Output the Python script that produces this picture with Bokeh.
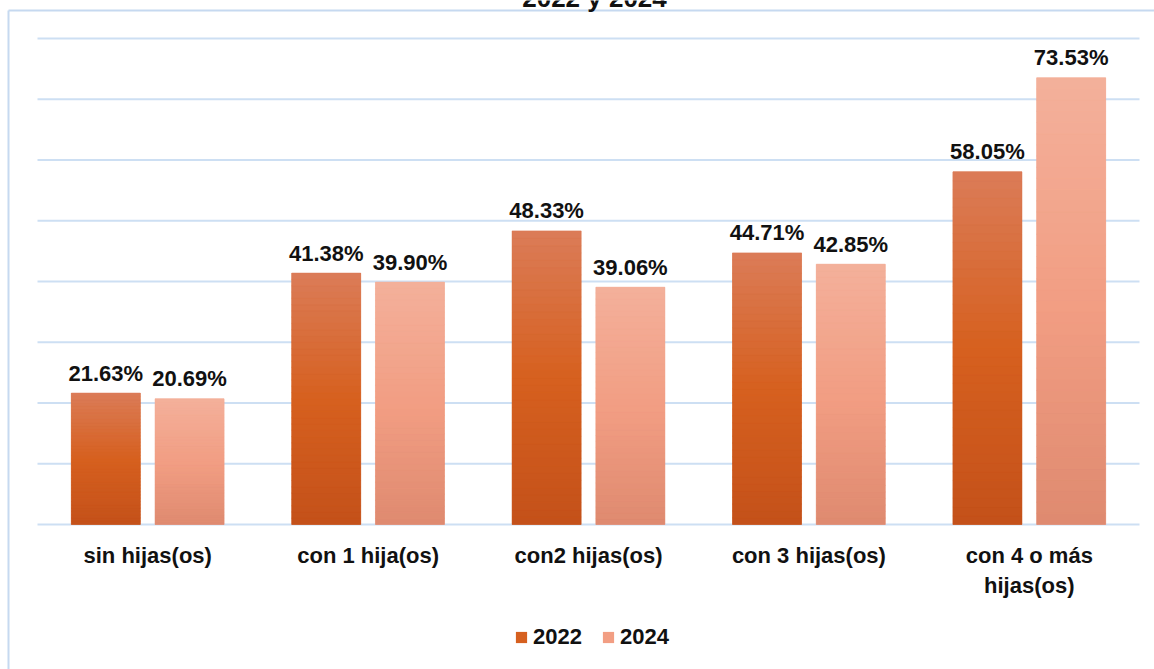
from bokeh.plotting import figure
from bokeh.models import Range1d, Legend, LegendItem, ColumnDataSource
from bokeh.transform import dodge
from bokeh.embed import file_html
from bokeh.resources import INLINE
from bokeh.core.properties import value

# ---------------- data ----------------
title_text = "2022 y 2024"
categories = ["sin hijas(os)", "con 1 hija(os)", "con2 hijas(os)",
              "con 3 hijas(os)", "con 4 o más hijas(os)"]
category_line1 = ["sin hijas(os)", "con 1 hija(os)", "con2 hijas(os)",
                  "con 3 hijas(os)", "con 4 o más"]
category_line2 = ["", "", "", "", "hijas(os)"]
years = ["2022", "2024"]
values_2022 = [21.63, 41.38, 48.33, 44.71, 58.05]
values_2024 = [20.69, 39.90, 39.06, 42.85, 73.53]
y_ticks = [0, 10, 20, 30, 40, 50, 60, 70, 80]

# ---------------- layout / styles ----------------
FONT = "Liberation Sans"
grad_2022 = ["#db7c58", "#d6601f", "#c4511a"]   # top, middle, bottom
grad_2024 = ["#f3b09b", "#f29e83", "#df8a70"]
grid_color = "#cddff3"
border_color = "#c6d9f0"
OFF = 0.19
BW = 0.313
N_BANDS = 40
W, H = 1154, 669
PLOT_LEFT, PLOT_RIGHT = 37, 1139     # px extent of category area
ZERO_PX, TOP80_PX = 524, 38          # px of y=0 and y=80
BORDER_X, BORDER_Y = 8, 10           # px of chart-area border
TITLE_BASE_PX = -3

n = len(categories)
PXX = (PLOT_RIGHT - PLOT_LEFT) / n
PXY = (ZERO_PX - TOP80_PX) / 80.0


def px_to_x(px):
    return (px - PLOT_LEFT) / PXX


def px_to_y(py):
    return (ZERO_PX - py) / PXY


def hex2rgb(h):
    h = h.lstrip("#")
    return [int(h[i:i + 2], 16) for i in (0, 2, 4)]


def grad_color(stops, f):
    # f: 0 at top, 1 at bottom
    if f <= 0.5:
        a, b, t = stops[0], stops[1], f / 0.5
    else:
        a, b, t = stops[1], stops[2], (f - 0.5) / 0.5
    ca, cb = hex2rgb(a), hex2rgb(b)
    c = [round(ca[i] + (cb[i] - ca[i]) * t) for i in range(3)]
    return "#%02x%02x%02x" % tuple(c)


x_center = [i + 0.5 for i in range(n)]


def bands(vals, stops):
    xs, bots, tops, cols = [], [], [], []
    for xc, v in zip(x_center, vals):
        for k in range(N_BANDS):
            xs.append(xc)
            bots.append(v * k / N_BANDS)
            tops.append(v * (k + 1) / N_BANDS)
            cols.append(grad_color(stops, 1 - (k + 0.5) / N_BANDS))
    return ColumnDataSource(dict(xc=xs, bottom=bots, top=tops, color=cols))


src = ColumnDataSource(dict(
    xc=x_center,
    v2022=values_2022,
    v2024=values_2024,
    l2022=[f"{v:.2f}%" for v in values_2022],
    l2024=[f"{v:.2f}%" for v in values_2024],
    c1=category_line1,
    c2=category_line2,
    zero=[0] * n,
))

p = figure(x_range=Range1d(px_to_x(0), px_to_x(W)),
           y_range=Range1d(px_to_y(H), px_to_y(0)),
           width=W, height=H,
           output_backend="svg", toolbar_location=None,
           min_border_left=0, min_border_right=0,
           min_border_top=0, min_border_bottom=0)
p.outline_line_color = None
p.background_fill_color = "white"
p.border_fill_color = "white"
p.xaxis.visible = False
p.yaxis.visible = False
p.xgrid.visible = False
p.ygrid.visible = False

# horizontal gridlines over the category area
p.segment(x0=[0] * len(y_ticks), x1=[n] * len(y_ticks), y0=y_ticks, y1=y_ticks,
          line_color=grid_color, line_width=2)

# chart-area border (left & top edges; the others fall outside the window)
p.segment(x0=[px_to_x(BORDER_X)] * 2, x1=[px_to_x(BORDER_X), px_to_x(W + 10)],
          y0=[px_to_y(H + 10), px_to_y(BORDER_Y)],
          y1=[px_to_y(BORDER_Y), px_to_y(BORDER_Y)],
          line_color=border_color, line_width=2)

# base bars (used by legend)
r22 = p.vbar(x=dodge("xc", -OFF), top="v2022", width=BW,
             source=src, fill_color=grad_2022[1], line_color=None)
r24 = p.vbar(x=dodge("xc", OFF), top="v2024", width=BW,
             source=src, fill_color=grad_2024[1], line_color=None)

# gradient overlay
for vals, stops, off in ((values_2022, grad_2022, -OFF), (values_2024, grad_2024, OFF)):
    bs = bands(vals, stops)
    p.vbar(x=dodge("xc", off), bottom="bottom", top="top",
           width=BW, source=bs, fill_color="color", line_color="color",
           line_width=0.6)

# value labels
for col, lab, off in (("v2022", "l2022", -OFF), ("v2024", "l2024", OFF)):
    p.text(x=dodge("xc", off), y=col, text=lab, source=src,
           text_font=value(FONT), text_font_style="bold",
           text_font_size="22px", text_color="#111111",
           text_align="center", text_baseline="alphabetic", y_offset=-20)

# category labels (two lines where needed)
for lab, yoff in (("c1", 31), ("c2", 61)):
    p.text(x="xc", y="zero", text=lab, source=src,
           text_font=value(FONT), text_font_style="bold",
           text_font_size="22px", text_color="#111111",
           text_align="center", text_baseline="alphabetic", y_offset=yoff)

# title (its upper part lies above the window, as in the reference)
p.text(x=[px_to_x(594)], y=[px_to_y(TITLE_BASE_PX)], text=[title_text],
       text_font=value(FONT), text_font_style="bold", text_font_size="26px",
       text_color="#111111", text_align="center", text_baseline="alphabetic")

legend = Legend(items=[LegendItem(label=years[0], renderers=[r22]),
                       LegendItem(label=years[1], renderers=[r24])],
                orientation="horizontal", location=(514, 19),
                glyph_width=14, glyph_height=14, label_standoff=5,
                label_height=22, spacing=19, padding=0, margin=0,
                border_line_color=None, background_fill_alpha=0,
                label_text_font=FONT, label_text_font_style="bold",
                label_text_font_size="22px", label_text_color="#111111")
p.add_layout(legend)

open("out.html", "w").write(file_html(p, INLINE))
